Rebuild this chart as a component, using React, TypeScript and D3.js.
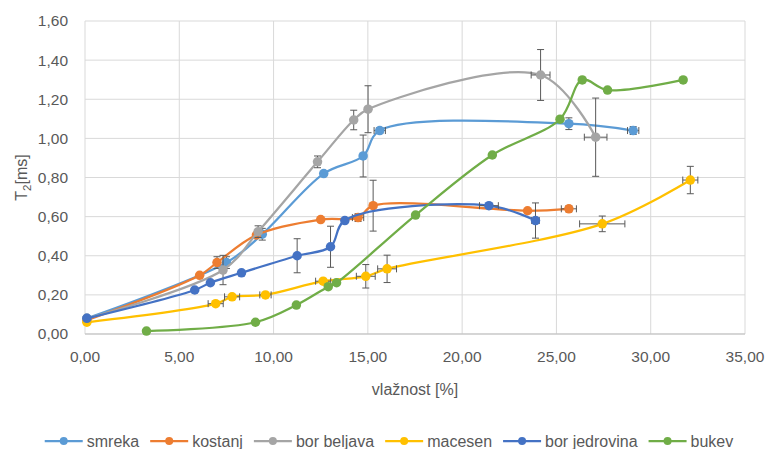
import React from 'react';
import * as d3 from 'd3';

const seriesNames = ['smreka', 'kostanj', 'bor beljava', 'macesen', 'bor jedrovina', 'bukev'];
const seriesColors = ['#5B9BD5', '#ED7D31', '#A5A5A5', '#FFC000', '#4472C4', '#70AD47'];

// moisture [%]
const smrekaX = [0.1, 7.5, 9.4, 12.66, 14.75, 15.63, 25.66, 29.07];
const smrekaY = [0.08, 0.365, 0.51, 0.82, 0.91, 1.04, 1.075, 1.04];
const smrekaYErr = [0, 0.03, 0.03, 0.01, 0.107, 0.015, 0.03, 0.02];
const smrekaXErr = [0, 0, 0, 0, 0, 0.3, 0, 0.3];

const kostanjX = [0.1, 6.08, 7.0, 9.09, 12.5, 14.48, 15.28, 23.47, 25.66];
const kostanjY = [0.07, 0.3, 0.365, 0.506, 0.585, 0.595, 0.656, 0.63, 0.64];
const kostanjYErr = [0, 0, 0.03, 0, 0, 0.02, 0.13, 0, 0.015];
const kostanjXErr = [0, 0, 0, 0, 0, 0.3, 0, 0, 0.4];

const beljavaX = [0.1, 7.32, 9.18, 12.33, 14.25, 15.01, 24.16, 27.08];
const beljavaY = [0.08, 0.327, 0.523, 0.88, 1.094, 1.149, 1.324, 1.006];
const beljavaYErr = [0, 0.075, 0.03, 0.03, 0.05, 0.12, 0.13, 0.2];
const beljavaXErr = [0, 0, 0, 0, 0, 0, 0.5, 0.6];

const macesenX = [0.1, 6.93, 7.8, 9.57, 12.63, 14.89, 16.02, 27.43, 32.1];
const macesenY = [0.06, 0.155, 0.19, 0.2, 0.27, 0.295, 0.333, 0.563, 0.787];
const macesenYErr = [0, 0.01, 0.01, 0.01, 0.01, 0.06, 0.07, 0.04, 0.07];
const macesenXErr = [0, 0.4, 0.4, 0.3, 0.4, 0.5, 0.5, 1.2, 0.4];

const jedrovinaX = [0.1, 5.82, 6.65, 8.3, 11.25, 13.02, 13.78, 21.42, 23.89];
const jedrovinaY = [0.08, 0.225, 0.262, 0.313, 0.4, 0.446, 0.58, 0.656, 0.58];
const jedrovinaYErr = [0, 0, 0, 0, 0.087, 0.105, 0, 0, 0.09];
const jedrovinaXErr = [0, 0, 0, 0, 0, 0, 0, 0.5, 0.2];

const bukevX = [3.26, 9.04, 11.21, 12.9, 13.34, 17.53, 21.6, 25.19, 26.37, 27.71, 31.72];
const bukevY = [0.015, 0.06, 0.148, 0.242, 0.262, 0.608, 0.915, 1.098, 1.299, 1.247, 1.299];
const bukevYErr = bukevX.map(() => 0);
const bukevXErr = bukevX.map(() => 0);

const xTicks = [0, 5, 10, 15, 20, 25, 30, 35];
const yTicks = [0, 0.2, 0.4, 0.6, 0.8, 1.0, 1.2, 1.4, 1.6];

const allX = [smrekaX, kostanjX, beljavaX, macesenX, jedrovinaX, bukevX];
const allY = [smrekaY, kostanjY, beljavaY, macesenY, jedrovinaY, bukevY];
const allYErr = [smrekaYErr, kostanjYErr, beljavaYErr, macesenYErr, jedrovinaYErr, bukevYErr];
const allXErr = [smrekaXErr, kostanjXErr, beljavaXErr, macesenXErr, jedrovinaXErr, bukevXErr];

const series = seriesNames.map((name, i) => ({
	name,
	color: seriesColors[i],
	points: allX[i].map((x, j) => ({ x, y: allY[i][j], ex: allXErr[i][j], ey: allYErr[i][j] })),
}));

const width = 766;
const height = 449;
const margin = { top: 21, right: 21, bottom: 115, left: 85 };
const font = '"Liberation Sans", Arial, sans-serif';
const textColor = '#595959';
const fmt = (v: number) => v.toFixed(2).replace('.', ',');

function measure(text: string, size: number) {
	const ctx = document.createElement('canvas').getContext('2d');
	if (!ctx) return text.length * size * 0.5;
	ctx.font = `${size}px ${font}`;
	return ctx.measureText(text).width;
}

export default function App() {
	const x = d3.scaleLinear().domain([0, 35]).range([margin.left, width - margin.right]);
	const y = d3.scaleLinear().domain([0, 1.6]).range([height - margin.bottom, margin.top]);

	const line = d3
		.line<{ x: number; y: number }>()
		.x((d) => x(d.x))
		.y((d) => y(d.y))
		.curve(d3.curveCatmullRom.alpha(0.5));

	// legend layout
	const legendFont = 16;
	const lineLen = 38;
	const textGap = 4;
	const itemGap = 11;
	const widths = seriesNames.map((n) => lineLen + textGap + measure(n, legendFont));
	const total = d3.sum(widths) + itemGap * (widths.length - 1);
	let cursor = (33 + 745) / 2 - total / 2;
	const legendItems = seriesNames.map((n, i) => {
		const item = { name: n, color: seriesColors[i], x: cursor };
		cursor += widths[i] + itemGap;
		return item;
	});
	const legendY = 441;
	const cap = 3.5;
	const errColor = '#595959';

	return (
		<svg
			width={width}
			height={height}
			style={{ position: 'absolute', left: 0, top: 0, background: '#fff' }}
			fontFamily={font}
		>
			<g className="grid">
				{yTicks.map((t) => (
					<line key={'y' + t} x1={x(0)} x2={x(35)} y1={y(t)} y2={y(t)} stroke="#d9d9d9" strokeWidth={1} />
				))}
				{xTicks.map((t) => (
					<line key={'x' + t} x1={x(t)} x2={x(t)} y1={y(0)} y2={y(1.6)} stroke="#d9d9d9" strokeWidth={1} />
				))}
				<line x1={x(0)} x2={x(35)} y1={y(0)} y2={y(0)} stroke="#bfbfbf" strokeWidth={1} />
			</g>
			<g className="y-axis" fill={textColor} fontSize={15.5} textAnchor="end">
				{yTicks.map((t) => (
					<text key={t} x={68} y={y(t)} dy="0.35em">
						{fmt(t)}
					</text>
				))}
			</g>
			<g className="x-axis" fill={textColor} fontSize={15.5} textAnchor="middle">
				{xTicks.map((t) => (
					<text key={t} x={x(t)} y={357} dy="0.35em">
						{fmt(t)}
					</text>
				))}
			</g>
			<text
				transform={`translate(21,${(y(0) + y(1.6)) / 2}) rotate(-90)`}
				textAnchor="middle"
				fill={textColor}
				fontSize={16}
				dy="0.35em"
			>
				T<tspan fontSize={11.5} dy="4">2</tspan>
				<tspan dy="-4">[ms]</tspan>
			</text>
			<text x={(x(0) + x(35)) / 2} y={389} textAnchor="middle" fill={textColor} fontSize={16} dy="0.35em">
				vlažnost [%]
			</text>
			<g className="plot-area">
				{series.map((s) => (
					<g key={s.name}>
						<path d={line(s.points) || ''} fill="none" stroke={s.color} strokeWidth={2.25} strokeLinejoin="round" />
						<g stroke={errColor} strokeWidth={1}>
							{s.points.map((p, j) => (
								<g key={j}>
									{p.ey > 0 && (
										<>
											<line x1={x(p.x)} x2={x(p.x)} y1={y(p.y - p.ey)} y2={y(p.y + p.ey)} />
											<line x1={x(p.x) - cap} x2={x(p.x) + cap} y1={y(p.y - p.ey)} y2={y(p.y - p.ey)} />
											<line x1={x(p.x) - cap} x2={x(p.x) + cap} y1={y(p.y + p.ey)} y2={y(p.y + p.ey)} />
										</>
									)}
									{p.ex > 0 && (
										<>
											<line x1={x(p.x - p.ex)} x2={x(p.x + p.ex)} y1={y(p.y)} y2={y(p.y)} />
											<line x1={x(p.x - p.ex)} x2={x(p.x - p.ex)} y1={y(p.y) - cap} y2={y(p.y) + cap} />
											<line x1={x(p.x + p.ex)} x2={x(p.x + p.ex)} y1={y(p.y) - cap} y2={y(p.y) + cap} />
										</>
									)}
								</g>
							))}
						</g>
						{s.points.map((p, j) => (
							<circle key={j} cx={x(p.x)} cy={y(p.y)} r={4.75} fill={s.color} />
						))}
					</g>
				))}
			</g>
			<g className="legend" fontSize={legendFont} fill={textColor}>
				{legendItems.map((it) => (
					<g key={it.name} transform={`translate(${it.x},${legendY})`}>
						<line x1={0} x2={lineLen} y1={0} y2={0} stroke={it.color} strokeWidth={2.25} />
						<circle cx={lineLen / 2} cy={0} r={4} fill={it.color} />
						<text x={lineLen + textGap} y={0} dy="0.35em">
							{it.name}
						</text>
					</g>
				))}
			</g>
		</svg>
	);
}
